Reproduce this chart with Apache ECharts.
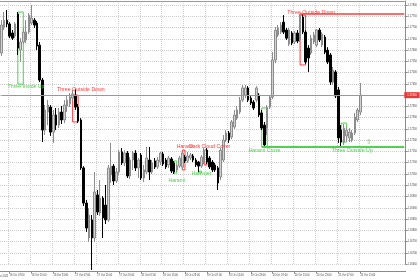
<!DOCTYPE html>
<html><head><meta charset="utf-8">
<script src="https://cdn.jsdelivr.net/npm/echarts@6/dist/echarts.min.js"></script>
<style>html,body{margin:0;padding:0;background:#fff}#c{width:420px;height:280px}</style>
</head><body><div id="c"></div><script>
// ---- data (hourly bars, first bar = 16 Oct 04:00) ----
const tickLabels = ["16 Oct 07:00","16 Oct 15:00","16 Oct 23:00","17 Oct 07:00","17 Oct 15:00","17 Oct 23:00",
  "18 Oct 07:00","18 Oct 15:00","18 Oct 23:00","19 Oct 07:00","19 Oct 15:00","19 Oct 23:00",
  "20 Oct 07:00","20 Oct 15:00","20 Oct 23:00","21 Oct 07:00","21 Oct 15:00"];
const firstLabel = "16 Oct 2025";
const opens = [1.17587,1.17702,1.17733,1.17716,1.17676,1.17662,1.17760,1.17600,1.17636,1.17645,
1.17680,1.17720,1.17733,1.17720,1.17622,1.17467,1.17245,1.17325,1.17347,1.17236,
1.17312,1.17267,1.17325,1.17290,1.17352,1.17361,1.17387,1.17400,1.17347,1.17290,
1.17077,1.16921,1.16766,1.16846,1.16766,1.16957,1.16877,1.16943,1.16912,1.16846,
1.17046,1.17085,1.17019,1.17059,1.17148,1.17099,1.17143,1.17041,1.17112,1.17143,
1.17077,1.17134,1.17032,1.17059,1.17112,1.17059,1.17108,1.17081,1.17103,1.17139,
1.17112,1.17090,1.17117,1.17099,1.17068,1.17085,1.17081,1.17125,1.17108,1.17121,
1.17130,1.17112,1.17103,1.17085,1.17103,1.17156,1.17121,1.17103,1.17090,1.17077,
1.17037,1.17112,1.17201,1.17232,1.17214,1.17259,1.17298,1.17325,1.17378,1.17400,
1.17432,1.17387,1.17369,1.17378,1.17400,1.17321,1.17267,1.17254,1.17347,1.17392,
1.17556,1.17667,1.17680,1.17724,1.17689,1.17627,1.17676,1.17636,1.17676,1.17645,
1.17747,1.17680,1.17609,1.17587,1.17636,1.17622,1.17689,1.17622,1.17658,1.17600,
1.17578,1.17458,1.17503,1.17423,1.17245,1.17192,1.17219,1.17210,1.17201,1.17232,
1.17290,1.17325];
const closes = [1.17711,1.17733,1.17716,1.17662,1.17653,1.17716,1.17609,1.17636,1.17680,1.17680,
1.17755,1.17742,1.17711,1.17618,1.17467,1.17245,1.17334,1.17356,1.17236,1.17312,
1.17267,1.17325,1.17290,1.17356,1.17378,1.17392,1.17405,1.17347,1.17285,1.17077,
1.16921,1.16810,1.16868,1.16766,1.16970,1.16881,1.16943,1.16855,1.16846,1.17077,
1.17085,1.17019,1.17059,1.17148,1.17099,1.17143,1.17041,1.17112,1.17143,1.17077,
1.17112,1.17032,1.17068,1.17121,1.17059,1.17099,1.17081,1.17112,1.17143,1.17094,
1.17081,1.17121,1.17063,1.17059,1.17085,1.17121,1.17143,1.17108,1.17130,1.17134,
1.17112,1.17090,1.17085,1.17125,1.17156,1.17103,1.17081,1.17068,1.17068,1.17010,
1.17156,1.17201,1.17232,1.17201,1.17281,1.17312,1.17334,1.17378,1.17432,1.17432,
1.17378,1.17365,1.17343,1.17432,1.17312,1.17254,1.17179,1.17347,1.17392,1.17556,
1.17689,1.17698,1.17711,1.17680,1.17653,1.17689,1.17631,1.17676,1.17640,1.17751,
1.17680,1.17547,1.17565,1.17653,1.17667,1.17689,1.17645,1.17671,1.17591,1.17547,
1.17458,1.17511,1.17396,1.17210,1.17192,1.17254,1.17245,1.17236,1.17232,1.17303,
1.17334,1.17400];
const lows = [1.17574,1.17689,1.17702,1.17653,1.17645,1.17653,1.17578,1.17547,1.17627,1.17631,
1.17671,1.17711,1.17698,1.17600,1.17458,1.17192,1.17223,1.17267,1.17219,1.17188,
1.17245,1.17254,1.17272,1.17276,1.17325,1.17347,1.17378,1.17334,1.17276,1.17068,
1.16908,1.16793,1.16748,1.16624,1.16748,1.16868,1.16864,1.16766,1.16828,1.16837,
1.17010,1.17001,1.17010,1.17046,1.17090,1.17085,1.17032,1.17028,1.17068,1.17063,
1.17032,1.17023,1.17014,1.17050,1.17023,1.17050,1.17072,1.17072,1.17090,1.17085,
1.17072,1.17077,1.17054,1.17050,1.17059,1.17077,1.17072,1.17099,1.17099,1.17112,
1.17103,1.17081,1.17059,1.17077,1.17094,1.17094,1.17072,1.17059,1.17059,1.16979,
1.17023,1.17103,1.17192,1.17188,1.17205,1.17250,1.17290,1.17316,1.17369,1.17387,
1.17369,1.17356,1.17334,1.17369,1.17303,1.17245,1.17170,1.17223,1.17338,1.17383,
1.17542,1.17658,1.17671,1.17671,1.17645,1.17618,1.17622,1.17627,1.17631,1.17636,
1.17671,1.17538,1.17503,1.17578,1.17627,1.17613,1.17636,1.17613,1.17582,1.17538,
1.17445,1.17445,1.17387,1.17188,1.17174,1.17179,1.17196,1.17192,1.17192,1.17223,
1.17281,1.17312];
const highs = [1.17733,1.17769,1.17778,1.17724,1.17689,1.17724,1.17769,1.17653,1.17698,1.17733,
1.17764,1.17800,1.17742,1.17729,1.17636,1.17476,1.17356,1.17378,1.17356,1.17334,
1.17343,1.17343,1.17352,1.17378,1.17396,1.17409,1.17423,1.17427,1.17361,1.17298,
1.17085,1.16935,1.16899,1.16868,1.17059,1.16979,1.17023,1.16952,1.17001,1.17090,
1.17188,1.17094,1.17077,1.17156,1.17165,1.17156,1.17152,1.17125,1.17152,1.17156,
1.17121,1.17143,1.17090,1.17170,1.17170,1.17112,1.17121,1.17125,1.17148,1.17148,
1.17121,1.17130,1.17125,1.17108,1.17094,1.17130,1.17152,1.17134,1.17148,1.17143,
1.17139,1.17121,1.17108,1.17134,1.17165,1.17165,1.17130,1.17112,1.17099,1.17085,
1.17165,1.17223,1.17245,1.17241,1.17290,1.17334,1.17352,1.17392,1.17445,1.17445,
1.17440,1.17396,1.17378,1.17440,1.17409,1.17334,1.17281,1.17356,1.17400,1.17591,
1.17702,1.17711,1.17724,1.17755,1.17698,1.17698,1.17684,1.17684,1.17689,1.17760,
1.17760,1.17689,1.17622,1.17667,1.17680,1.17693,1.17698,1.17680,1.17667,1.17613,
1.17587,1.17525,1.17511,1.17436,1.17267,1.17272,1.17259,1.17254,1.17245,1.17321,
1.17343,1.17454];
const currentPrice = 1.17400;
// pattern boxes: bar range and price range
const patternNames  = ["Three Inside Up","Three Outside Down","Harami","Harami","Dark Cloud Cover","Hammer","Harami Cross","Three Outside Down","Three Outside Up"];
const patternBull   = [true,false,true,false,false,true,true,false,true];
const patternFrom   = [6,26,63,66,74,72,95,109,124];
const patternTo     = [8,28,64,67,75,73,97,111,126];
const patternHigh   = [1.17769,1.17400,1.17108,1.17156,1.17156,1.17063,1.17343,1.17755,1.17276];
const patternLow    = [1.17449,1.17281,1.17054,1.17068,1.17090,1.17054,1.17170,1.17534,1.17192];
const labelBar      = [9,29,64,67,76,73,96,113,128];
const labelPrice    = [1.17436,1.17427,1.17019,1.17170,1.17170,1.17054,1.17152,1.17766,1.17156];
// level lines
const resistanceLevel = 1.17760, resistanceFrom = 109;
const supportLevel = 1.17170, supportFrom = 95;
const arrowBar = 134, arrowPrice = 1.17192;
const yMin = 1.1665, yMax = 1.17818, yStep = 0.0005;
const categoryCount = 148;

// ---- chart ----
const GREEN = '#4fd24f', RED = '#ff3b3b';
const cats = Array.from({length: categoryCount}, (_, i) => String(i));
const isTick = i => i >= 3 && (i - 3) % 8 === 0 && (i - 3) / 8 < tickLabels.length;
const data = opens.map((o, i) => [o, closes[i], lows[i], highs[i]]);
const FONT = 'Liberation Sans';

const areas = patternNames.map((n, k) => [
  {coord: [patternFrom[k], patternHigh[k]], itemStyle: {color: 'rgba(0,0,0,0)', borderColor: patternBull[k] ? GREEN : RED, borderWidth: 1}},
  {coord: [patternTo[k], patternLow[k]]}
]);
const texts = patternNames.map((n, k) => ({
  coord: [labelBar[k], labelPrice[k]], symbol: 'rect', symbolSize: 0.1,
  itemStyle: {color: 'rgba(0,0,0,0)'},
  label: {show: true, position: 'inside', formatter: n, color: patternBull[k] ? GREEN : RED, fontSize: 5.2, fontFamily: FONT}
}));
texts.push({coord: [arrowBar, arrowPrice], symbol: 'rect', symbolSize: 0.1, itemStyle: {color: 'rgba(0,0,0,0)'},
  label: {show: true, position: 'inside', formatter: '\u21E7', color: GREEN, fontSize: 7, fontFamily: 'DejaVu Sans'}});

const chart = echarts.init(document.getElementById('c'), null, {renderer: 'canvas'});
chart.setOption({
  animation: false,
  backgroundColor: '#ffffff',
  grid: {left: 0, right: 8, top: 1, bottom: 15.9},
  graphic: [{type: 'text', style: {text: firstLabel, x: 8.3, y: 276, align: 'right', verticalAlign: 'middle', fontSize: 2.6, fill: '#444', fontFamily: FONT}}],
  xAxis: [{
    type: 'category', data: cats, boundaryGap: true, offset: 7,
    axisLine: {lineStyle: {color: '#8a8a8a', width: 1}},
    axisTick: {show: true, alignWithLabel: true, interval: (i) => isTick(i), length: 2.5, lineStyle: {color: '#8a8a8a'}},
    axisLabel: {interval: (i) => isTick(i), formatter: (v, i) => tickLabels[(i - 3) / 8], fontSize: 2.6, color: '#444', align: 'left', margin: 2.5, fontFamily: FONT},
    splitLine: {show: true, interval: (i) => isTick(i), lineStyle: {type: 'dotted', color: '#cfcfcf', width: 1}}
  }, {
    type: 'category', data: cats, position: 'top',
    axisLine: {lineStyle: {color: '#9a9a9a'}}, axisTick: {show: false}, axisLabel: {show: false}, splitLine: {show: false}
  }],
  yAxis: {
    type: 'value', position: 'right', min: yMin, max: yMax, interval: yStep,
    axisLine: {show: true, lineStyle: {color: '#8a8a8a'}},
    axisTick: {show: true, length: 2, lineStyle: {color: '#8a8a8a'}},
    axisLabel: {fontSize: 2.6, color: '#444', margin: 2, showMaxLabel: false, formatter: v => v.toFixed(5), fontFamily: FONT},
    splitLine: {lineStyle: {type: 'dotted', color: '#cfcfcf', width: 1}}
  },
  series: [{
    type: 'candlestick', data: data, barWidth: 2, clip: false,
    itemStyle: {color: '#d2d2d2', color0: '#000000', borderColor: '#8c8c8c', borderColor0: '#000000', borderWidth: 1},
    markArea: {silent: true, data: areas},
    markLine: {
      silent: true, symbol: ['none', 'none'],
      data: [
        [{coord: [0, currentPrice], lineStyle: {color: '#e07a7a', width: 1, type: 'solid'},
          label: {show: true, position: 'end', distance: 0, formatter: currentPrice.toFixed(5), backgroundColor: '#e53935', color: '#fff', fontSize: 2.6, padding: [1.5, 3], fontFamily: FONT}},
         {coord: [categoryCount - 1, currentPrice]}],
        [{coord: [resistanceFrom, resistanceLevel], lineStyle: {color: RED, width: 1.5, type: 'solid'}, label: {show: false}},
         {coord: [categoryCount - 1, resistanceLevel]}],
        [{coord: [supportFrom, supportLevel], lineStyle: {color: GREEN, width: 2, type: 'solid'}, label: {show: false}},
         {coord: [categoryCount - 1, supportLevel]}]
      ]
    },
    markPoint: {silent: true, data: texts}
  }]
});
</script></body></html>
